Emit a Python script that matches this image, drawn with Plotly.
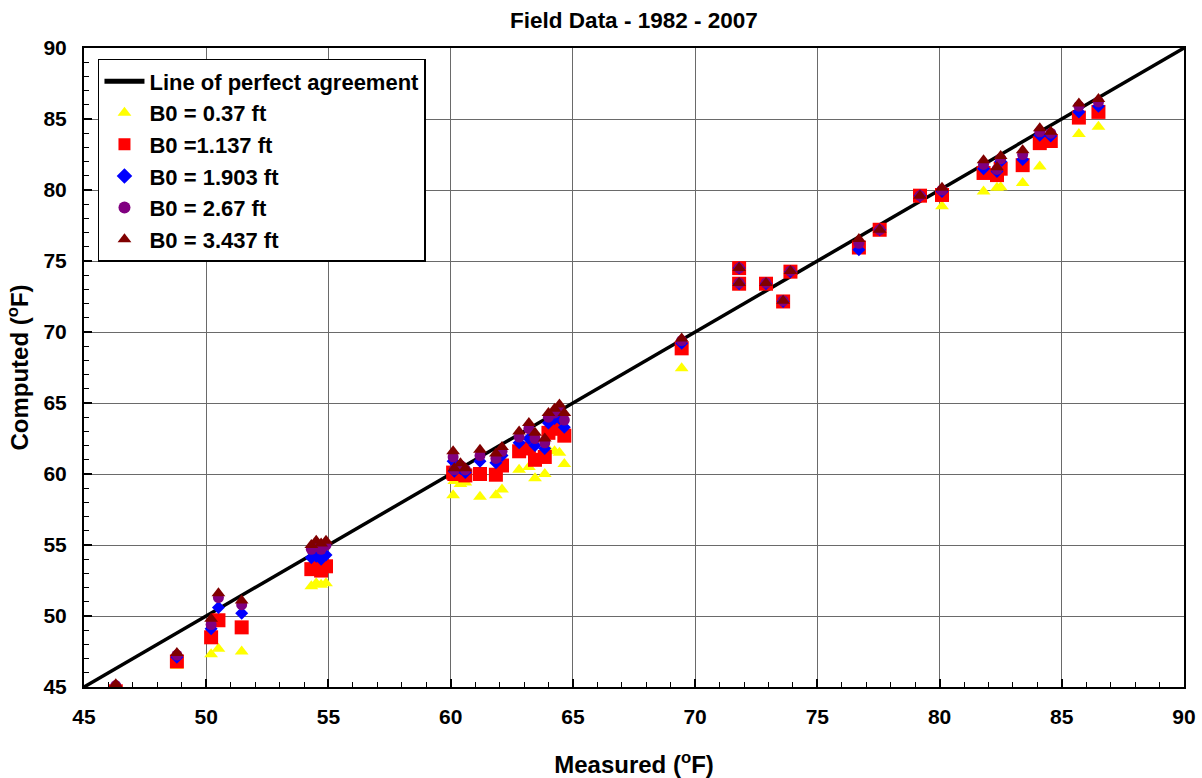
import plotly.graph_objects as go

# Measured temperatures (deg F)
measured = [46.3, 48.8, 50.2, 50.5, 51.45, 54.3, 54.5, 54.7, 54.9,
            60.1, 60.15, 60.4, 60.6, 61.2, 61.85, 62.1, 62.8, 63.2, 63.45, 63.85,
            64.0, 64.25, 64.45, 64.65, 69.45, 71.8, 71.8, 72.9, 73.6, 73.9,
            76.7, 77.55, 79.2, 80.1, 81.8, 82.35, 82.5, 83.4, 84.1, 84.55, 85.7, 86.5]

b0_037 = [44.5, 46.5, 47.3, 47.7, 47.5, 52.1, 52.3, 52.2, 52.3,
          58.5, 59.5, 59.3, 59.4, 58.4, 58.5, 58.9, 60.3, 60.5, 59.7, 60.0,
          61.7, 61.6, 61.5, 60.7, 67.45, 74.4, 73.35, 73.35, 72.1, 74.2,
          75.9, 77.2, 79.55, 78.85, 79.9, 80.15, 80.2, 80.5, 81.65, 83.2, 83.95, 84.45]

b0_1137 = [44.7, 46.8, 48.5, 49.7, 49.2, 53.3, 53.4, 53.2, 53.5,
           60.1, 60.0, 60.0, 59.9, 60.0, 59.95, 60.6, 61.6, 61.8, 61.0, 61.2,
           62.9, 63.2, 63.2, 62.7, 68.85, 74.5, 73.4, 73.4, 72.15, 74.25,
           75.95, 77.2, 79.6, 79.65, 81.2, 81.05, 81.5, 81.75, 83.3, 83.45, 85.1, 85.5]

b0_1903 = [44.95, 47.1, 49.1, 50.6, 50.2, 54.1, 54.2, 54.0, 54.3,
           60.9, 60.2, 60.4, 60.1, 60.9, 60.8, 61.3, 62.2, 62.5, 62.0, 61.8,
           63.6, 63.9, 63.9, 63.3, 69.2, 74.5, 73.4, 73.4, 72.15, 74.25,
           75.8, 77.2, 79.6, 79.9, 81.5, 81.3, 82.0, 82.15, 83.85, 83.8, 85.5, 85.9]

b0_267 = [45.1, 47.25, 49.4, 51.3, 50.8, 54.7, 54.9, 54.7, 55.0,
          61.2, 60.3, 60.6, 60.3, 61.3, 61.1, 61.6, 62.6, 63.2, 62.5, 62.2,
          64.0, 64.3, 64.5, 63.8, 69.4, 74.5, 73.45, 73.45, 72.2, 74.3,
          76.25, 77.2, 79.6, 80.0, 81.8, 81.45, 82.2, 82.5, 84.1, 84.0, 85.9, 86.2]

b0_3437 = [45.2, 47.4, 49.8, 51.6, 51.1, 55.0, 55.3, 55.1, 55.3,
           61.6, 60.4, 60.75, 60.4, 61.7, 61.45, 61.9, 63.0, 63.6, 62.9, 62.5,
           64.3, 64.6, 64.9, 64.3, 69.55, 74.5, 73.45, 73.45, 72.2, 74.3,
           76.55, 77.2, 79.6, 80.15, 82.1, 81.6, 82.4, 82.8, 84.35, 84.1, 86.1, 86.4]

agreement = [45, 90]

series = [
    ("B0 = 0.37 ft", b0_037, "triangle-up", "#FFFF00", 12),
    ("B0 =1.137 ft", b0_1137, "square", "#FF0000", 14),
    ("B0 = 1.903 ft", b0_1903, "diamond", "#0000FF", 10),
    ("B0 = 2.67 ft", b0_267, "circle", "#800080", 11),
    ("B0 = 3.437 ft", b0_3437, "triangle-up", "#800000", 12),
]

FONT = "Liberation Sans, Arial, sans-serif"

fig = go.Figure()
fig.add_trace(go.Scatter(x=agreement, y=agreement, mode="lines",
                         name="Line of perfect agreement", legendgroup="g0",
                         line=dict(color="black", width=3.5)))
for i, (name, vals, sym, col, sz) in enumerate(series):
    fig.add_trace(go.Scatter(x=measured, y=vals, mode="markers", name=name,
                             legendgroup=f"g{i+1}",
                             marker=dict(symbol=sym, color=col, size=sz,
                                         line=dict(width=0))))

axis_common = dict(
    range=[45, 90], dtick=5, showgrid=True, gridcolor="#6a6a6a", gridwidth=1,
    showline=True, linecolor="black", linewidth=2, mirror=True,
    ticks="inside", ticklen=8, tickcolor="black", tickwidth=1.5,
    minor=dict(dtick=1, ticks="inside", ticklen=5, tickcolor="black",
               tickwidth=1, showgrid=False),
    zeroline=False, automargin=False,
    tickfont=dict(family=FONT, size=21, color="black", weight="bold"),
)

fig.update_layout(
    width=1202, height=778,
    margin=dict(l=84, r=18, t=48, b=91),
    paper_bgcolor="white", plot_bgcolor="white",
    font=dict(family=FONT, color="black", weight="bold"),
    title=dict(text="Field Data - 1982 - 2007", x=0.5274, xanchor="center",
               y=0.974, yanchor="middle",
               font=dict(family=FONT, size=22.5, color="black", weight="bold")),
    xaxis=dict(**axis_common, ticklabelstandoff=10,
               title=dict(text="Measured (<sup>o</sup>F)", standoff=30,
                          font=dict(family=FONT, size=24, color="black", weight="bold"))),
    yaxis=dict(**axis_common, ticklabelstandoff=11,
               title=dict(text="Computed (<sup>o</sup>F)", standoff=8,
                          font=dict(family=FONT, size=24, color="black", weight="bold"))),
    legend=dict(x=0.0127, y=0.983, xanchor="left", yanchor="top",
                bgcolor="white", bordercolor="black", borderwidth=1.5,
                font=dict(family=FONT, size=22, color="black", weight="bold"),
                itemsizing="constant", itemwidth=40,
                traceorder="grouped", tracegroupgap=0),
    showlegend=True,
)

fig.write_html("out.html")
